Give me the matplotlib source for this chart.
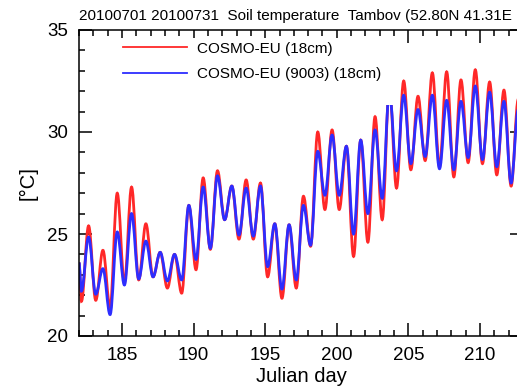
import numpy as np
import matplotlib
matplotlib.use("Agg")
import matplotlib.pyplot as plt
from matplotlib.path import Path
from matplotlib.patches import PathPatch, Rectangle
from matplotlib.lines import Line2D
from matplotlib.ticker import MultipleLocator

plt.rcParams['font.family'] = ['Liberation Sans', 'DejaVu Sans']

# Julian days of July 2010, daily minimum early morning, maximum afternoon
days = np.arange(182, 213)
t_min = days + 0.17
t_max = days + 0.67

# soil temperature 18cm [degC], daily minima / maxima
ref_min = [21.7, 21.75, 21.4, 22.6, 22.75, 22.9, 22.35, 22.1, 23.25, 24.25,
           25.7, 24.75, 24.75, 22.9, 21.85, 22.35, 24.4, 26.2, 26.2, 23.9,
           24.6, 25.7, 27.25, 28.15, 28.6, 28.3, 27.8, 28.5, 28.45, 27.9, 27.35]
ref_max = [25.4, 24.2, 27.0, 27.3, 25.5, 24.1, 24.0, 26.4, 27.75, 28.1,
           27.35, 27.65, 27.5, 25.5, 25.45, 26.85, 30.0, 30.1, 29.3, 29.6,
           30.75, 32.2, 32.5, 31.75, 32.9, 32.95, 32.55, 33.05, 32.45, 32.05, 31.6]
new_min = [22.2, 22.05, 21.05, 22.5, 22.8, 22.9, 22.7, 22.75, 23.75, 24.3,
           25.7, 24.95, 24.9, 23.4, 22.3, 22.75, 24.45, 26.9, 26.9, 25.0,
           26.0, 26.75, 28.1, 28.45, 28.8, 28.2, 28.15, 28.75, 28.65, 28.3, 27.5]
new_max = [24.85, 23.3, 25.1, 26.0, 24.65, 24.1, 24.0, 26.4, 27.3, 27.85,
           27.35, 27.25, 27.35, 25.5, 25.45, 26.4, 29.05, 29.85, 29.3, 29.6,
           30.1, 32.0, 31.8, 31.1, 31.8, 31.55, 31.5, 32.25, 31.95, 31.5, 31.1]

# first and last value of the period (182.0 and 213.0)
ref_ends = [23.6, 29.5]
new_ends = [23.6, 29.3]

labels = ['COSMO-EU (18cm)', 'COSMO-EU (9003) (18cm)']
colors = ['#ff2828', '#2d2dff']


def diurnal_path(vmin, vmax, ends, k=0.364):
    # smooth curve through the daily extremes (horizontal tangent at each one)
    t = [182.0]
    v = [ends[0]]
    for i in range(len(days)):
        t += [t_min[i], t_max[i]]
        v += [vmin[i], vmax[i]]
    t.append(213.0)
    v.append(ends[1])
    verts = [(t[0], v[0])]
    codes = [Path.MOVETO]
    for i in range(1, len(t)):
        h = t[i] - t[i - 1]
        verts += [(t[i - 1] + k * h, v[i - 1]), (t[i] - k * h, v[i]), (t[i], v[i])]
        codes += [Path.CURVE4] * 3
    return Path(verts, codes)


fig = plt.figure(figsize=(5.17, 3.91), dpi=100)
ax = fig.add_axes([79 / 517, 55 / 391, 444 / 517, 306 / 391])

ax.add_patch(PathPatch(diurnal_path(ref_min, ref_max, ref_ends), facecolor='none',
                       edgecolor=colors[0], lw=2.0, zorder=2))
ax.add_patch(PathPatch(diurnal_path(new_min, new_max, new_ends), facecolor='none',
                       edgecolor=colors[1], lw=2.0, zorder=2.1))

ax.set_xlim(182, 213)
ax.set_ylim(20, 35)

ax.xaxis.set_major_locator(MultipleLocator(5))
ax.xaxis.set_minor_locator(MultipleLocator(1))
ax.yaxis.set_major_locator(MultipleLocator(5))
ax.yaxis.set_minor_locator(MultipleLocator(1))
ax.tick_params(which='both', direction='in', top=True, right=True, width=1.1)
ax.tick_params(which='major', length=9.5, labelsize=13.5)
ax.tick_params(axis='x', which='major', pad=8)
ax.tick_params(axis='y', which='major', pad=8)
ax.tick_params(which='minor', length=4.3)
for s in ax.spines.values():
    s.set_linewidth(1.1)

ax.set_xlabel('Julian day', fontsize=14.5, labelpad=2)
ax.set_ylabel('[°C]', fontsize=14.5, labelpad=7)
# the title runs off the right edge in the original; keep the visible part
ax.set_title('20100701 20100731  Soil temperature  Tambov (52.80N 41.31E',
             loc='left', fontsize=11.0, pad=7)

# white legend box
ax.add_patch(Rectangle((0.047, 0.755), 0.67, 0.22, transform=ax.transAxes,
                       facecolor='white', edgecolor='none', zorder=3))
handles = [Line2D([], [], color=c, lw=1.3) for c in colors]
leg = ax.legend(handles, labels, loc='upper left', bbox_to_anchor=(0.099, 0.962),
                frameon=False, fontsize=11, handlelength=4.2, handletextpad=0.62,
                labelspacing=0.75, borderpad=0, borderaxespad=0)
leg.set_zorder(4)

fig.savefig('out.png', dpi=100)
